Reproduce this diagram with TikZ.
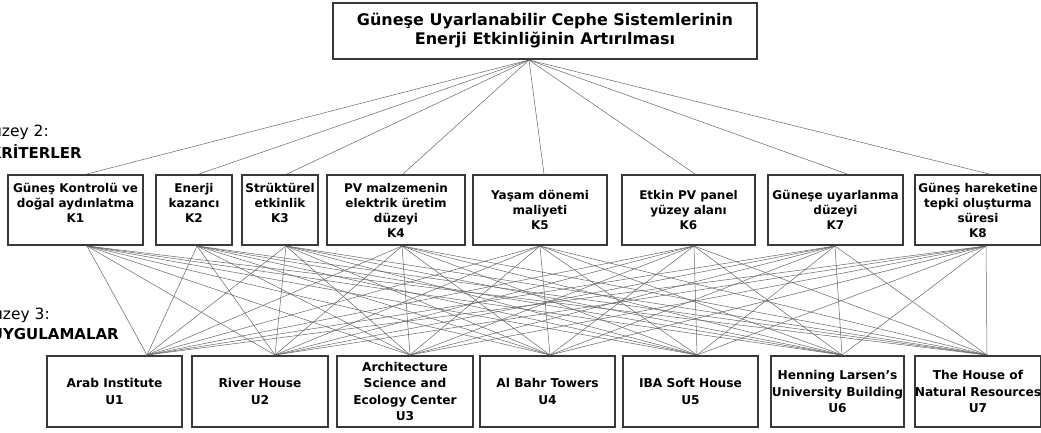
\documentclass[tikz,border=0pt]{standalone}
\usepackage{fontspec}
\setmainfont{DejaVu Sans}
\begin{document}
\begin{tikzpicture}[x=1pt,y=-1pt,
  box/.style={draw=black!78, line width=2pt, fill=white, align=center,
    inner sep=0pt, minimum height=70pt},
  goalbox/.style={box, minimum height=56pt, minimum width=424pt,
    font=\bfseries\fontsize{16}{19}\selectfont},
  critbox/.style={box, font=\bfseries\fontsize{12}{15}\selectfont},
  appbox/.style={box, minimum height=71pt, font=\bfseries\fontsize{12.2}{16.5}\selectfont},
  link/.style={draw=black!60, line width=0.5pt},
  levelname/.style={anchor=east, inner sep=0pt, font=\fontsize{15.5}{17}\selectfont},
  leveltitle/.style={anchor=east, inner sep=0pt, font=\bfseries\fontsize{15}{17}\selectfont},
]
\useasboundingbox (0,0) rectangle (1041,433);

% goal
\node[goalbox] (G) at (545,31) {Güneşe Uyarlanabilir Cephe Sistemlerinin\\Enerji Etkinliğinin Artırılması};

% level labels
\node[levelname]  (L2a) at (49,132)  {Düzey 2:};
\node[leveltitle] (L2b) at (82,152)  {KRİTERLER};
\node[levelname]  (L3a) at (50,315)  {Düzey 3:};
\node[leveltitle] (L3b) at (119,334) {UYGULAMALAR};

% criteria
\node[critbox, minimum width=135pt] (K1) at (75.5,210) {Güneş Kontrolü ve\\doğal aydınlatma\\K1\\\mbox{}};
\node[critbox, minimum width=76pt]  (K2) at (194,210)  {Enerji\\kazancı\\K2\\\mbox{}};
\node[critbox, minimum width=76pt]  (K3) at (280,210)  {Strüktürel\\etkinlik\\K3\\\mbox{}};
\node[critbox, minimum width=138pt] (K4) at (396,210)  {PV malzemenin\\elektrik üretim\\düzeyi\\K4};
\node[critbox, minimum width=134pt] (K5) at (540,210)  {Yaşam dönemi\\maliyeti\\K5};
\node[critbox, minimum width=133pt] (K6) at (688.5,210) {Etkin PV panel\\yüzey alanı\\K6};
\node[critbox, minimum width=135pt] (K7) at (835.5,210) {Güneşe uyarlanma\\düzeyi\\K7};
\node[critbox, minimum width=126pt] (K8) at (978,210)  {Güneş hareketine\\tepki oluşturma\\süresi\\K8};

% applications
\node[appbox, minimum width=135pt] (U1) at (114.5,391.5) {Arab Institute\\U1};
\node[appbox, minimum width=136pt] (U2) at (260,391.5)   {River House\\U2};
\node[appbox, minimum width=136pt] (U3) at (405,391.5)   {Architecture\\Science and\\Ecology Center\\U3};
\node[appbox, minimum width=135pt] (U4) at (547.5,391.5) {Al Bahr Towers\\U4};
\node[appbox, minimum width=135pt] (U5) at (690.5,391.5) {IBA Soft House\\U5};
\node[appbox, minimum width=133pt] (U6) at (837.5,391.5) {Henning Larsen’s\\University Building\\U6};
\node[appbox, minimum width=126pt] (U7) at (978,391.5)   {The House of\\Natural Resources\\U7};

% connection points on the box edges
\coordinate (Gs) at ([xshift=-16pt]G.south);
\foreach \k/\dt/\db in {1/11.5/11.5, 2/5/3, 3/7/6, 4/7/6, 5/4/0, 6/6.5/5.5, 7/11.5/-0.5, 8/11/8} {
  \coordinate (K\k n) at ([xshift=\dt pt]K\k.north);
  \coordinate (K\k s) at ([xshift=\db pt]K\k.south);
}
\foreach \u/\d in {1/32.5, 2/15, 3/5, 4/2.5, 5/6.5, 6/4.5, 7/9} {
  \coordinate (U\u n) at ([xshift=\d pt]U\u.north);
}

% connectors: goal to every criterion, every criterion to every application
\foreach \k in {1,...,8} {
  \draw[link] (Gs) -- (K\k n);
  \foreach \u in {1,...,7} {
    \draw[link] (K\k s) -- (U\u n);
  }
}
\end{tikzpicture}
\end{document}
